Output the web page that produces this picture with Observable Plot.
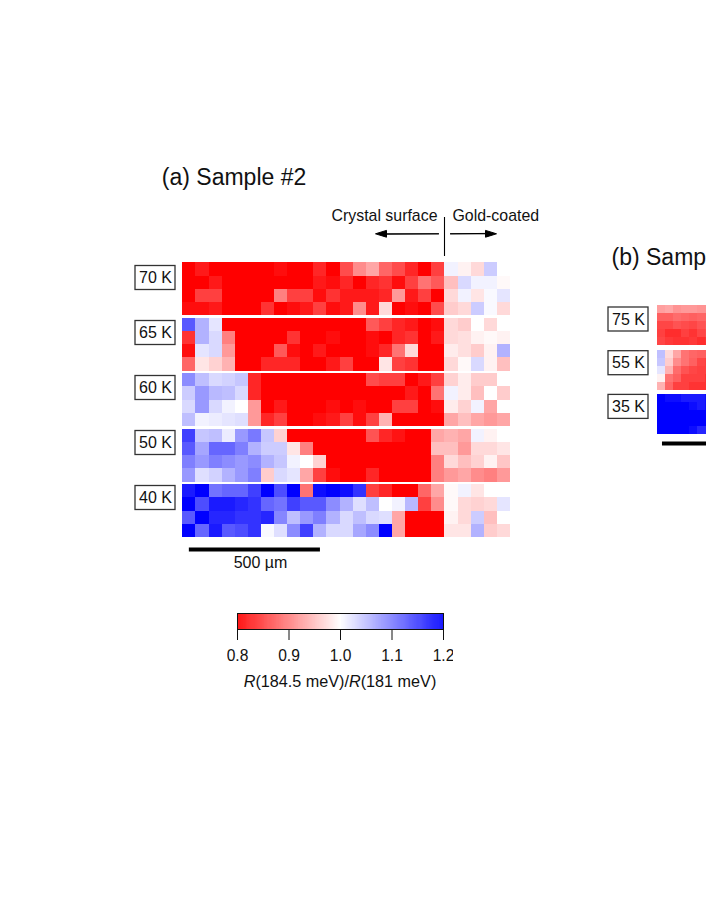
<!DOCTYPE html>
<html>
<head>
<meta charset="utf-8">
<script src="https://cdn.jsdelivr.net/npm/d3@7"></script>
<script src="https://cdn.jsdelivr.net/npm/@observablehq/plot@0.6"></script>
<style>
html,body{margin:0;padding:0;background:#fff;overflow:hidden}
#page{position:relative;width:706px;height:913px;overflow:hidden;font-family:"Liberation Sans",Arial,sans-serif}
#page svg{position:absolute;left:0;top:0;max-width:none}
#cb{position:absolute;left:237px;width:206px;top:672px;text-align:center;font-size:16.2px;line-height:18px;color:#111;white-space:nowrap}
</style>
</head>
<body>
<div id="page"></div>
<script>
// Panel (a) Sample #2: R(184.5 meV)/R(181 meV) per map cell, rows top to bottom
const labelsA = ["70 K","65 K","60 K","50 K","40 K"];
const k70 = [
[.80,.82,.80,.80,.80,.80,.80,.81,.80,.80,.83,.80,.86,.91,.93,.88,.86,.83,.80,.85,1.01,.99,.97,1.04,1.0],
[.80,.80,.82,.80,.80,.80,.80,.80,.80,.80,.82,.81,.83,.80,.83,.84,.81,.85,.89,.87,.95,1.03,1.01,1.01,.995],
[.80,.85,.85,.80,.80,.80,.80,.90,.85,.85,.81,.84,.82,.82,.82,.83,.92,.82,.85,.80,.97,1.01,.98,1.005,1.02],
[.81,.81,.82,.80,.80,.80,.84,.80,.81,.82,.85,.81,.82,.91,.82,.97,.80,.81,.80,.86,.96,.97,1.04,1.005,.97]];
const k65 = [
[1.13,1.06,1.02,.80,.80,.80,.80,.80,.80,.80,.80,.80,.80,.80,.87,.85,.83,.82,.80,.81,.97,.96,1.0,.97,1.0],
[.84,1.06,1.03,.90,.80,.80,.80,.80,.84,.80,.80,.81,.80,.80,.81,.80,.83,.84,.80,.82,.97,.975,.99,.995,.99],
[.81,1.02,1.03,.92,.80,.80,.80,.87,.81,.80,.82,.80,.80,.80,.81,.83,.89,.97,.80,.80,.985,.975,.96,.99,1.06],
[.88,.98,.965,.94,.80,.80,.83,.83,.83,.80,.80,.82,.85,.80,.80,.98,.85,.84,.80,.80,.97,.995,1.03,.99,.95]];
const k60 = [
[1.09,1.05,1.03,1.035,1.045,.83,.80,.80,.80,.80,.80,.80,.80,.80,.86,.85,.85,.80,.82,.85,.965,.985,.96,.96,1.0],
[1.04,1.08,1.055,1.05,1.03,.83,.80,.80,.80,.80,.80,.80,.80,.80,.80,.80,.80,.82,.80,.89,1.01,.985,.95,1.0,.96],
[1.03,1.08,1.03,1.01,1.0,.92,.80,.82,.80,.80,.80,.81,.80,.81,.80,.80,.85,.85,.80,.81,.985,.965,1.01,.93,1.0],
[1.05,1.01,1.015,1.02,1.025,.92,.83,.85,.80,.80,.81,.82,.85,.81,.85,.94,.80,.80,.80,.80,.93,.95,.93,.92,.93]];
const k50 = [
[1.15,1.045,1.05,1.015,1.08,1.105,1.045,.965,.80,.80,.80,.80,.80,.80,.865,.83,.815,.80,.80,.93,.94,.93,1.01,.99,1.0],
[1.13,1.07,1.12,1.12,1.10,1.06,1.04,1.04,.98,.90,.80,.80,.80,.80,.80,.80,.80,.80,.80,.95,.95,.92,.97,.97,.98],
[1.10,1.08,1.10,1.09,1.08,1.09,1.06,1.045,1.01,1.0,.965,.80,.80,.80,.80,.80,.80,.80,.80,.90,.97,.95,.965,.99,.955],
[1.08,1.025,1.035,1.06,1.08,1.10,.96,1.03,1.02,.93,.85,.81,.80,.80,.83,.80,.80,.80,.80,.90,.92,.93,.91,.90,.92]];
const k40 = [
[1.18,1.2,1.11,1.12,1.12,1.15,1.2,1.14,1.2,.89,1.19,1.2,1.19,1.16,.85,.83,.80,.80,.88,.93,.995,1.01,.98,1.0,1.0],
[1.2,1.14,1.18,1.18,1.17,1.16,1.12,1.11,1.15,1.13,1.13,1.09,1.06,1.025,1.05,1.0,1.01,1.055,.85,.91,.995,.97,.965,.97,1.02],
[1.13,1.2,1.17,1.17,1.16,1.16,1.17,1.095,1.05,1.08,1.10,1.06,1.03,1.05,1.03,1.025,.93,.80,.80,.80,.99,.97,1.04,.95,1.0],
[1.2,1.12,1.18,1.13,1.14,1.16,1.005,1.025,1.09,1.15,1.06,1.03,1.03,1.07,1.09,1.2,.93,.80,.80,.80,.98,.98,1.06,.96,.97]];
// Panel (b): only the part inside the page
const labelsB = ["75 K","55 K","35 K"];
const k75b = [
[.925,.93,.915,.92,.92,.915,.915],
[.875,.875,.885,.88,.875,.88,.88],
[.855,.855,.865,.86,.855,.865,.87],
[.85,.835,.835,.85,.84,.855,.86],
[.855,.845,.84,.84,.845,.835,.84]];
const k55b = [
[1.05,.97,.93,.89,.88,.875,.875],
[1.045,.96,.91,.89,.875,.855,.85],
[1.02,.94,.885,.865,.855,.85,.85],
[.99,.89,.875,.85,.85,.85,.84],
[.94,.88,.85,.85,.84,.84,.84]];
const k35b = [
[1.2,1.19,1.19,1.18,1.18,1.18,1.19],
[1.2,1.2,1.2,1.2,1.19,1.18,1.19],
[1.2,1.2,1.2,1.2,1.2,1.2,1.2],
[1.2,1.2,1.2,1.2,1.2,1.2,1.2],
[1.2,1.2,1.2,1.2,1.19,1.17,1.17]];
const colorDomain = [0.8, 1.0, 1.2];
const colorRange = ["#ff0000", "#ffffff", "#0000ff"];
const colorTicks = [0.8, 0.9, 1.0, 1.1, 1.2];

const W = 706, H = 913;
const color = {type: "linear", domain: colorDomain, range: colorRange, clamp: true};
const base = {width: W, height: H, margin: 0, style: {background: "transparent"}, color};
const page = document.getElementById("page");
const font = '"Liberation Sans", Arial, sans-serif';

const cellsOf = (blocks, gap) => blocks.flatMap((b, bi) =>
  b.flatMap((row, ri) => row.map((v, ci) => ({ci, ri: bi * gap + ri, v}))));

// panel (a): position in µm, one cell is 50 µm
const cellUm = 50, blockUm = 210;
const cellsA = [k70, k65, k60, k50, k40].flatMap((b, bi) =>
  b.flatMap((row, ri) => row.map((v, ci) => ({x: ci * cellUm, y: bi * blockUm + ri * cellUm, v}))));
page.append(Plot.plot({...base,
  x: {domain: [0, 1250], range: [182.3, 510], axis: null},
  y: {domain: [0, 1040], range: [262.3, 537], axis: null},
  marks: [
    Plot.rect(cellsA, {x1: "x", x2: d => d.x + cellUm, y1: "y", y2: d => d.y + cellUm, fill: "v", shapeRendering: "crispEdges"}),
    Plot.ruleY([1085], {x1: 25, x2: 525, stroke: "#000", strokeWidth: 4})
  ]}));

// panel (b): position in cells
const cellsB = cellsOf([k75b, k55b, k35b], 5.52);
page.append(Plot.plot({...base,
  x: {domain: [0, 7], range: [656.7, 712.7], axis: null},
  y: {domain: [0, 16.04], range: [305.4, 433.7], axis: null},
  marks: [
    Plot.rect(cellsB, {x1: "ci", x2: d => d.ci + 1, y1: "ri", y2: d => d.ri + 1, fill: "v", shapeRendering: "crispEdges"}),
    Plot.ruleY([17.2], {x1: 0.66, x2: 9, stroke: "#000", strokeWidth: 4})
  ]}));

// annotations, in page pixels
const boxesA = labelsA.map((t, i) => ({t, x1: 135, x2: 175, y1: 265.5 + 55 * i, y2: 289.5 + 55 * i}));
const boxesB = labelsB.map((t, i) => ({t, x1: 608, x2: 648, y1: 307 + 43.7 * i, y2: 331 + 43.7 * i}));
const boxes = [...boxesA, ...boxesB];
const arrowShape = {
  draw(ctx, l) {
    ctx.moveTo(0, 0);
    ctx.lineTo(0, -l + 11);
    ctx.lineTo(-3.4, -l + 11);
    ctx.lineTo(0, -l);
    ctx.lineTo(3.4, -l + 11);
    ctx.lineTo(0, -l + 11);
    ctx.closePath();
  }
};
const texts = (data, o) => Plot.text(data, {x: "x", y: "y", text: "t", fill: "#111", fontFamily: font, ...o});
page.append(Plot.plot({...base,
  x: {type: "identity", axis: null}, y: {type: "identity", axis: null},
  length: {type: "identity"},
  marks: [
    Plot.rect(boxes, {x1: "x1", x2: "x2", y1: "y1", y2: "y2", fill: "#fff", stroke: "#333", strokeWidth: 1.3}),
    Plot.text(boxes, {x: d => (d.x1 + d.x2) / 2, y: d => (d.y1 + d.y2) / 2, text: "t", fontSize: 16, fill: "#111", fontFamily: font}),
    texts([{t: "(a) Sample #2", x: 161.3, y: 177}, {t: "(b) Samp", x: 611, y: 257}], {fontSize: 23, textAnchor: "start"}),
    texts([{t: "Crystal surface", x: 331, y: 215}, {t: "Gold-coated", x: 452, y: 215}], {fontSize: 15.9, textAnchor: "start"}),
    texts([{t: "500 \u00b5m", x: 260, y: 562}], {fontSize: 16}),
    Plot.ruleX([444], {y1: 217, y2: 256, stroke: "#000", strokeWidth: 1.1}),
    Plot.vector([{x: 438, y: 233.3, len: 63, rot: -90}, {x: 450, y: 233.3, len: 46, rot: 90}],
      {x: "x", y: "y", length: d => d.len, rotate: d => d.rot, anchor: "start", shape: arrowShape,
       stroke: "#000", fill: "#000", strokeWidth: 1})
  ]
}));

// colour bar
const ramp = d3.range(0.8, 1.2, 0.001);
const cbSvg = Plot.plot({
  width: 226, height: 62, marginLeft: 10, marginRight: 10, marginTop: 8, marginBottom: 38,
  style: {background: "transparent", fontFamily: font},
  color,
  x: {domain: [0.8, 1.2]},
  y: {domain: [0, 1], axis: null},
  marks: [
    Plot.rect(ramp, {x1: d => d, x2: d => d + 0.0015, y1: 0, y2: 1, fill: d => d}),
    Plot.frame({stroke: "#111", strokeWidth: 1}),
    Plot.axisX({ticks: colorTicks, tickFormat: d3.format(".1f"), tickSize: 11, tickPadding: 9, fontSize: 15.6, label: null, stroke: "#111", fill: "#111"})
  ]});
cbSvg.style.left = "227px"; cbSvg.style.top = "605px";
page.append(cbSvg);

const cap = document.createElement("div");
cap.id = "cb";
cap.innerHTML = "<i>R</i>(184.5 meV)/<i>R</i>(181 meV)";
page.append(cap);
</script>
</body>
</html>
